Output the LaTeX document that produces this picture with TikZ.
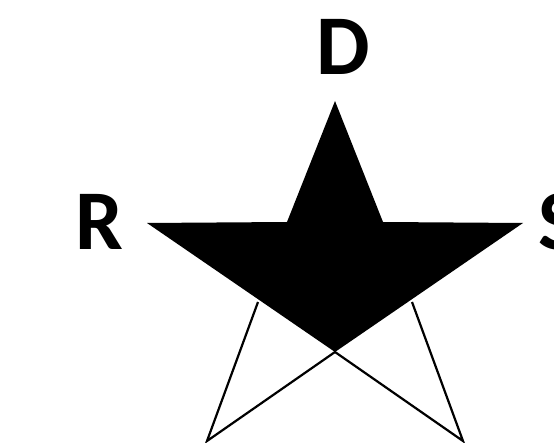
\documentclass[tikz,border=0pt]{standalone}
\usepackage{fontspec}
\setmainfont{Carlito}
\begin{document}
\begin{tikzpicture}[x=1pt,y=-1pt,
  lbl/.style={font=\bfseries\fontsize{85}{85}\selectfont, inner sep=0pt, anchor=base},
  edge/.style={line width=2.2pt, line join=miter}]
\useasboundingbox (0,0) rectangle (554,443);
% star points
\coordinate (T) at (335,101);
\coordinate (UIR) at (383,222);
\coordinate (RP) at (523,223);
\coordinate (LIR) at (412,302);
\coordinate (C) at (335,352);
\coordinate (LIL) at (258,302);
\coordinate (LP) at (147,223);
\coordinate (UIL) at (287,222);
\coordinate (BL) at (207,441);
\coordinate (BR) at (463,441);
\fill[black] (T) -- (UIR) -- (RP) -- (C) -- (LP) -- (UIL) -- cycle;
\draw[edge] (LIL) -- (BL) -- (C) -- (BR) -- (LIR);
\node[lbl] (D) at (343,75) {D};
\node[lbl] (R) at (99,250) {R};
\node[lbl, anchor=base west] (S) at (538,250) {S};
\end{tikzpicture}
\end{document}
